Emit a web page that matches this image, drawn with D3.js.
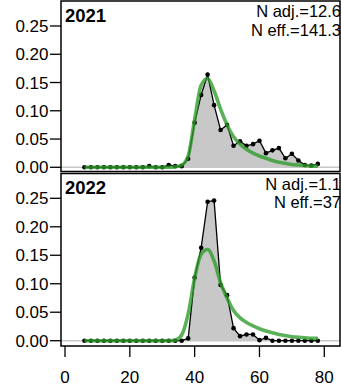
<!DOCTYPE html>
<html>
<head>
<meta charset="utf-8">
<script src="https://cdn.jsdelivr.net/npm/d3@7"></script>
<style>
  body { margin: 0; background: #fff; }
  text { font-family: "Liberation Sans", Arial, sans-serif; fill: #000; }
</style>
</head>
<body>
<script>
/******************************************************************************/
/* DATA                                                                       */
/******************************************************************************/
var bins = [6, 8, 10, 12, 14, 16, 18, 20, 22, 24, 26, 28, 30, 32, 34, 36, 38, 40, 42,
            44, 46, 48, 50, 52, 54, 56, 58, 60, 62, 64, 66, 68, 70, 72, 74, 76, 78];

var obs2021 = [0, 0, 0, 0, 0, 0, 0, 0, 0, 0, 0.002, 0, 0, 0.004, 0.002, 0.002, 0.015,
               0.079, 0.128, 0.164, 0.110, 0.066, 0.075, 0.038, 0.046, 0.038, 0.041,
               0.047, 0.025, 0.030, 0.034, 0.016, 0.024, 0.012, 0.004, 0.003, 0.006];
var fit2021 = [0, 0, 0, 0, 0, 0, 0, 0, 0, 0, 0, 0, 0, 0, 0.001, 0.004, 0.020,
               0.085, 0.145, 0.157, 0.135, 0.103, 0.075, 0.054, 0.041, 0.032, 0.025,
               0.020, 0.016, 0.012, 0.009, 0.007, 0.005, 0.004, 0.003, 0.002, 0.002];

var obs2022 = [0, 0, 0, 0, 0, 0, 0, 0, 0, 0, 0, 0, 0, 0, 0, 0, 0.004,
               0.111, 0.163, 0.244, 0.246, 0.098, 0.080, 0.022, 0.008, 0.011, 0.011,
               0.001, 0.005, 0, 0, 0, 0, 0, 0, 0, 0];
var fit2022 = [0, 0, 0, 0, 0, 0, 0, 0, 0, 0, 0, 0, 0, 0, 0.001, 0.010, 0.047,
               0.110, 0.152, 0.160, 0.140, 0.102, 0.075, 0.053, 0.040, 0.032, 0.026,
               0.021, 0.017, 0.014, 0.011, 0.009, 0.007, 0.006, 0.005, 0.004, 0.004];

var years  = ['2021', '2022'];
var nAdj   = ['N adj.=12.6', 'N adj.=1.1'];
var nEff   = ['N eff.=141.3', 'N eff.=37'];
var yTicks = [0, 0.05, 0.10, 0.15, 0.20, 0.25];
var xTicks = [0, 20, 40, 60, 80];

/******************************************************************************/
/* GLOBAL                                                                     */
/******************************************************************************/
var width  = 341;
var height = 388;
var left   = 61;
var right  = 340;
var panels = [
  {top: 1,     bottom: 171.5, zero: 167.3, quarter: 26,    obs: obs2021, fit: fit2021},
  {top: 173.5, bottom: 346,   zero: 340.7, quarter: 198.3, obs: obs2022, fit: fit2022}
];

var x = d3.scaleLinear().domain([0, 80]).range([65, 324.3]);

var svg = d3.select('body')
  .append('svg')
  .attr('width', width)
  .attr('height', height);

/******************************************************************************/
/* PANELS                                                                     */
/******************************************************************************/
var drawPanel = function(p, i) {
  var y = d3.scaleLinear().domain([0, 0.25]).range([p.zero, p.quarter]);
  var g = svg.append('g');
  var pts = bins.map(function(b, j) { return [b, p.obs[j]]; });
  var fitPts = bins.map(function(b, j) { return [b, p.fit[j]]; });

  // grey fill under the observed line
  var area = d3.area()
    .x(function(d) { return x(d[0]); })
    .y0(y(0))
    .y1(function(d) { return y(d[1]); });
  g.append('path').datum(pts)
    .attr('d', area)
    .attr('fill', '#c8c8c8');

  // zero line
  g.append('line')
    .attr('x1', left).attr('x2', right)
    .attr('y1', y(0)).attr('y2', y(0))
    .attr('stroke', '#c8c8c8').attr('stroke-width', 1.5);

  var line = d3.line()
    .x(function(d) { return x(d[0]); })
    .y(function(d) { return y(d[1]); });

  g.append('path').datum(pts)
    .attr('d', line)
    .attr('fill', 'none')
    .attr('stroke', '#000')
    .attr('stroke-width', 1.3);

  g.selectAll('circle').data(pts).enter()
    .append('circle')
    .attr('cx', function(d) { return x(d[0]); })
    .attr('cy', function(d) { return y(d[1]); })
    .attr('r', 2.3)
    .attr('fill', '#000');

  // fitted curve on top
  g.append('path').datum(fitPts)
    .attr('d', line.curve(d3.curveMonotoneX))
    .attr('fill', 'none')
    .attr('stroke', 'rgba(45,155,40,0.78)')
    .attr('stroke-width', 3.6)
    .attr('stroke-linejoin', 'round');

  // box
  g.append('rect')
    .attr('x', left).attr('y', p.top)
    .attr('width', right - left).attr('height', p.bottom - p.top)
    .attr('fill', 'none')
    .attr('stroke', '#000')
    .attr('stroke-width', 1.5);

  // y ticks
  yTicks.forEach(function(t) {
    g.append('line')
      .attr('x1', 50).attr('x2', left)
      .attr('y1', y(t)).attr('y2', y(t))
      .attr('stroke', '#000').attr('stroke-width', 1.3);
    g.append('text')
      .attr('x', 48.5).attr('y', y(t) + 6)
      .attr('text-anchor', 'end')
      .style('font-size', '17px')
      .text(t.toFixed(2));
  });

  // labels
  g.append('text')
    .attr('x', 65).attr('y', p.top + 20.5)
    .style('font-size', '18.5px').style('font-weight', 'bold')
    .text(years[i]);
  g.append('text')
    .attr('x', 341).attr('y', p.top + 16)
    .attr('text-anchor', 'end')
    .style('font-size', '16.5px')
    .text(nAdj[i]);
  g.append('text')
    .attr('x', 341).attr('y', p.top + 34.5)
    .attr('text-anchor', 'end')
    .style('font-size', '16.5px')
    .text(nEff[i]);
};

/******************************************************************************/
/* RUNTIME                                                                    */
/******************************************************************************/
panels.forEach(drawPanel);

// x axis under the bottom panel
xTicks.forEach(function(t) {
  svg.append('line')
    .attr('x1', x(t)).attr('x2', x(t))
    .attr('y1', 346).attr('y2', 357)
    .attr('stroke', '#000').attr('stroke-width', 1.3);
  svg.append('text')
    .attr('x', x(t)).attr('y', 383)
    .attr('text-anchor', 'middle')
    .style('font-size', '17px')
    .text(t);
});
</script>
</body>
</html>
